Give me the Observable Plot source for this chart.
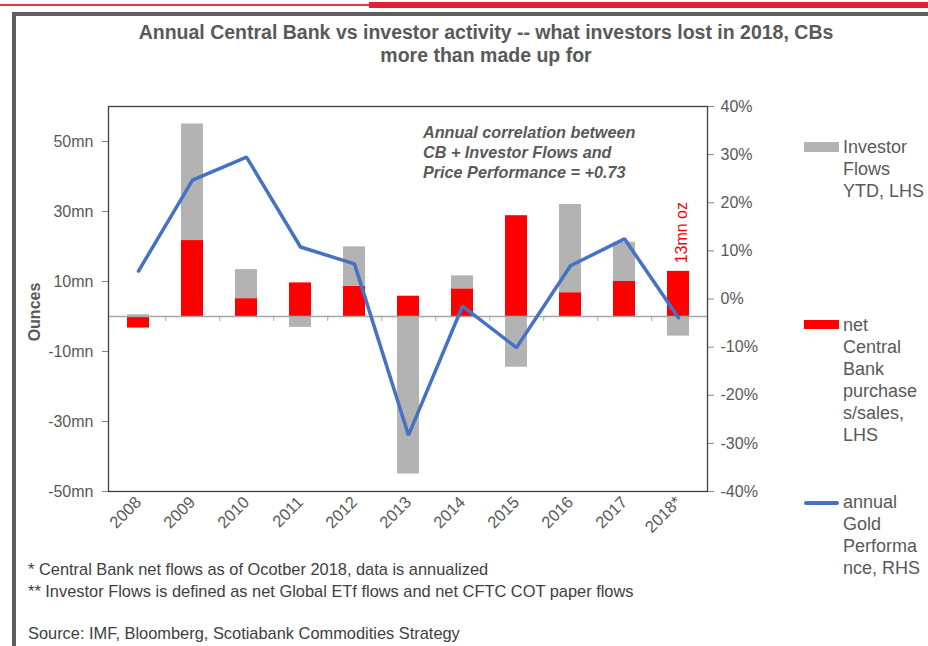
<!DOCTYPE html>
<html>
<head>
<meta charset="utf-8">
<script src="https://cdn.jsdelivr.net/npm/d3@7"></script>
<script src="https://cdn.jsdelivr.net/npm/@observablehq/plot@0.6"></script>
<style>
  html, body { margin: 0; padding: 0; background: #fff; }
  #wrap { position: relative; width: 928px; height: 646px; overflow: hidden; font-family: "Liberation Sans", Arial, sans-serif; color: #595959; }
  #wrap svg { position: absolute; left: 0; top: 0; }
  .abs { position: absolute; white-space: nowrap; }
  #title { left: 86px; width: 800px; top: 21px; text-align: center; font-weight: bold; font-size: 19.5px; line-height: 23px; }
  #note { left: 423px; top: 122px; font-weight: bold; font-style: italic; font-size: 16.2px; line-height: 20px; }
  #ylab { left: 35px; top: 312px; transform: translate(-50%, -50%) rotate(-90deg); font-weight: bold; font-size: 16px; }
  .foot { left: 28px; font-size: 16.4px; line-height: 22px; color: #404040; }
  .legtxt { left: 843px; font-size: 18px; line-height: 22px; }
  .sw { position: absolute; left: 804px; width: 35px; }
  #topthin { left: 0; top: 4px; width: 370px; height: 2px; background: #ee3345; }
  #topthick { left: 369px; top: 2px; width: 560px; height: 6px; background: #e4202f; }
  #frameT { left: 12px; top: 12px; width: 930px; height: 4px; background: #5f5f5f; }
  #frameL { left: 12px; top: 12px; width: 4px; height: 640px; background: #5f5f5f; }
</style>
</head>
<body>
<div id="wrap"></div>
<script>
// ---- data ----
const years = ["2008","2009","2010","2011","2012","2013","2014","2015","2016","2017","2018*"];
const cbFlows = [-3.3, 21.7, 5.1, 9.6, 8.6, 5.8, 7.9, 28.8, 6.8, 10.0, 12.9];        // mn oz, LHS
const investorFlows = [0.5, 33.3, 8.3, -3.1, 11.3, -45.0, 3.7, -14.5, 25.2, 11.2, -5.6]; // mn oz, LHS
const goldPerf = [5.8, 24.7, 29.5, 10.8, 7.3, -28.3, -1.5, -10.1, 6.9, 12.5, -3.9];   // %, RHS
const leftTicks = [-50, -30, -10, 10, 30, 50];
const rightTicks = [-40, -30, -20, -10, 0, 10, 20, 30, 40];
const seriesNames = ["net Central Bank purchases/sales, LHS", "Investor Flows YTD, LHS"];
const seriesColors = ["#ff0000", "#b3b3b3"];
const barLabel = [{year: "2018*", value: 12.9, text: "13mn oz"}];

// ---- build tables ----
const bars = [];
years.forEach((y, i) => {
  bars.push({year: y, series: seriesNames[0], value: cbFlows[i]});
  bars.push({year: y, series: seriesNames[1], value: investorFlows[i]});
});
const perf = years.map((y, i) => ({year: y, pct: goldPerf[i]}));

// right axis (%) mapped onto left scale (mn oz)
const pctToLeft = d3.scaleLinear().domain([-40, 40]).range([-50, 60]);

const W = 928, H = 646, mL = 108, mR = 221, mT = 106, mB = 155;
const step = (W - mL - mR) / years.length;

const chart = Plot.plot({
  width: W, height: H,
  marginLeft: mL, marginRight: mR, marginTop: mT, marginBottom: mB,
  style: {fontFamily: "Liberation Sans, Arial, sans-serif", color: "#595959", background: "transparent"},
  x: {domain: years, paddingInner: 0.6, paddingOuter: 0.3},
  y: {domain: [-50, 60]},
  color: {domain: seriesNames, range: seriesColors},
  marks: [
    Plot.barY(bars, Plot.stackY({x: "year", y: "value", fill: "series", order: null})),
    Plot.ruleY([0], {stroke: "#a6a6a6", strokeWidth: 1.3}),
    Plot.ruleX(years.slice(0, -1), {x: d => d, y1: 0, y2: 0, insetBottom: -5, dx: step / 2, stroke: "#a6a6a6"}),
    Plot.line(perf, {x: "year", y: d => pctToLeft(d.pct), stroke: "#4472c4", strokeWidth: 3.5, strokeLinejoin: "miter", strokeLinecap: "round"}),
    Plot.text(barLabel, {x: "year", y: "value", text: "text", rotate: -90, textAnchor: "start", dy: -8, dx: 3, fill: "#ff0000", fontSize: 16}),
    Plot.frame({stroke: "#404040", strokeWidth: 1.3}),
    Plot.axisY({anchor: "left", ticks: leftTicks, tickFormat: d => `${d}mn`, tickSize: 6, tickPadding: 9, fontSize: 16, label: null, stroke: "#868686", fill: "#595959"}),
    Plot.axisY({anchor: "right", ticks: rightTicks.map(pctToLeft), tickFormat: v => `${Math.round(pctToLeft.invert(v))}%`, tickSize: 6, tickPadding: 7, fontSize: 16, label: null, stroke: "#868686", fill: "#595959"}),
    Plot.ruleX([0], {frameAnchor: "right", stroke: "#868686", strokeWidth: 1.3}),
    Plot.axisX({tickRotate: -45, tickSize: 0, tickPadding: 8, fontSize: 16.5, label: null, fill: "#595959"})
  ]
});

const wrap = document.getElementById("wrap");
wrap.append(chart);

function addDiv(cls, id, html, style) {
  const d = document.createElement("div");
  d.className = cls;
  if (id) d.id = id;
  d.innerHTML = html;
  if (style) Object.assign(d.style, style);
  wrap.append(d);
  return d;
}
addDiv("abs", "topthin", "");
addDiv("abs", "topthick", "");
addDiv("abs", "frameT", "");
addDiv("abs", "frameL", "");
addDiv("abs", "title", "Annual Central Bank vs investor activity -- what investors lost in 2018, CBs<br>more than made up for");
addDiv("abs", "note", "Annual correlation between<br>CB + Investor Flows and<br>Price Performance = +0.73");
addDiv("abs", "ylab", "Ounces");
addDiv("abs foot", null, "* Central Bank net flows as of Ocotber 2018, data is annualized", {top: "558px"});
addDiv("abs foot", null, "** Investor Flows is defined as net Global ETf flows and net CFTC COT paper flows", {top: "580px"});
addDiv("abs foot", null, "Source: IMF, Bloomberg, Scotiabank Commodities Strategy", {top: "622px"});

// legend
addDiv("sw", null, "", {top: "142px", height: "10px", background: seriesColors[1]});
addDiv("abs legtxt", null, "Investor<br>Flows<br>YTD, LHS", {top: "136px"});
addDiv("sw", null, "", {top: "320px", height: "9px", background: seriesColors[0]});
addDiv("abs legtxt", null, "net<br>Central<br>Bank<br>purchase<br>s/sales,<br>LHS", {top: "314px"});
addDiv("sw", null, "", {top: "501px", height: "3.5px", background: "#4472c4", borderRadius: "2px"});
addDiv("abs legtxt", null, "annual<br>Gold<br>Performa<br>nce, RHS", {top: "491px"});
</script>
</body>
</html>
